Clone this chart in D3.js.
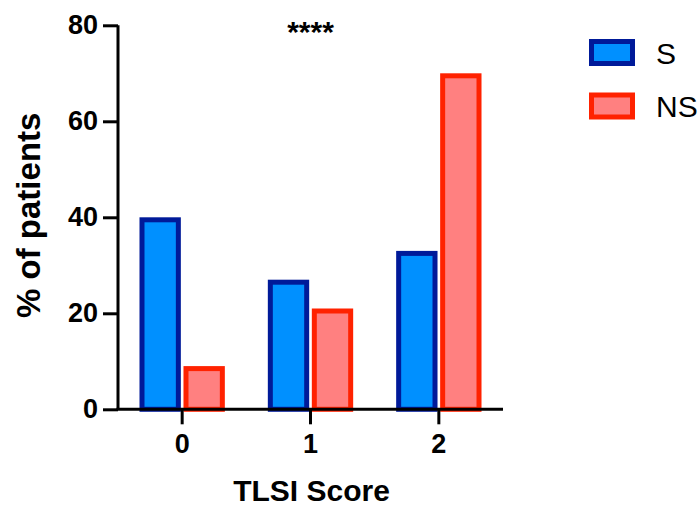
<!DOCTYPE html>
<html><head><meta charset="utf-8">
<script src="https://cdn.jsdelivr.net/npm/d3@7"></script>
<style>
html,body{margin:0;padding:0;background:#fff;}
text{font-family:"Liberation Sans",Arial,Helvetica,sans-serif;}
</style></head>
<body>
<svg id="chart" width="699" height="507"></svg>
<script>
const categories = ["0", "1", "2"];
const seriesNames = ["S", "NS"];
const valuesS = [40, 27, 33];
const valuesNS = [9, 21, 70];
const yTicks = [0, 20, 40, 60, 80];
const significance = "****";

const fills = {S: "#0090ff", NS: "#ff8080"};
const strokes = {S: "#001a99", NS: "#ff2200"};

const svg = d3.select("#chart");
const x0 = 118, x1 = 503, yTop = 25.3, yBot = 409.3;

const x = d3.scaleBand().domain(categories).range([x0, x1]).paddingInner(0.335).paddingOuter(0.1675);
const xs = d3.scaleBand().domain(seriesNames).range([0, x.bandwidth()]).paddingInner(0.06);
const y = d3.scaleLinear().domain([0, 80]).range([yBot, yTop]);

const data = categories.map((c, i) => ({cat: c, vals: [{k: "S", v: valuesS[i]}, {k: "NS", v: valuesNS[i]}]}));
const sw = 5;

const g = svg.append("g");
g.selectAll("g.grp").data(data).join("g").attr("class", "grp")
  .attr("transform", d => `translate(${x(d.cat)},0)`)
  .selectAll("rect").data(d => d.vals).join("rect")
  .attr("x", d => xs(d.k) + sw / 2)
  .attr("width", xs.bandwidth() - sw)
  .attr("y", d => y(d.v) + sw / 2)
  .attr("height", d => Math.max(0, yBot - y(d.v) - sw / 2))
  .attr("fill", d => fills[d.k])
  .attr("stroke", d => strokes[d.k])
  .attr("stroke-width", sw);

// Y axis
const yAxis = g.append("g").attr("transform", `translate(${x0},0)`)
  .call(d3.axisLeft(y).tickValues(yTicks).tickSize(15).tickPadding(5));
yAxis.select(".domain").attr("stroke", "#000").attr("stroke-width", 3).attr("d", `M0,${yTop}V${yBot}`);
yAxis.selectAll(".tick line").attr("stroke", "#000").attr("stroke-width", 3);
yAxis.selectAll(".tick text").attr("font-size", 27).attr("font-weight", "bold").attr("fill", "#000")
  .attr("font-family", "'Liberation Sans',Arial,sans-serif");

// X axis
const xAxis = g.append("g").attr("transform", `translate(0,${yBot})`)
  .call(d3.axisBottom(x).tickSize(15).tickPadding(10));
xAxis.select(".domain").attr("stroke", "#000").attr("stroke-width", 3).attr("d", `M${x0 - 1.5},0H${x1}`);
xAxis.selectAll(".tick line").attr("stroke", "#000").attr("stroke-width", 3);
xAxis.selectAll(".tick text").attr("font-size", 27).attr("font-weight", "bold").attr("fill", "#000")
  .attr("font-family", "'Liberation Sans',Arial,sans-serif");

// Axis titles
svg.append("text").attr("x", 311.5).attr("y", 501).attr("text-anchor", "middle")
  .attr("font-size", 30).attr("font-weight", "bold").text("TLSI Score");
svg.append("text").attr("transform", `translate(40,${(yTop + yBot) / 2 - 2}) rotate(-90)`)
  .attr("text-anchor", "middle").attr("font-size", 33).attr("font-weight", "bold").text("% of patients");

// significance
svg.append("text").attr("x", x("1") + x.bandwidth() / 2).attr("y", 42).attr("text-anchor", "middle")
  .attr("font-size", 30).attr("font-weight", "bold").text(significance);

// Legend
const leg = svg.append("g").attr("transform", "translate(589,39)");
const li = leg.selectAll("g").data(seriesNames).join("g").attr("transform", (d, i) => `translate(0,${i * 53.5})`);
li.append("rect").attr("x", sw / 2).attr("y", sw / 2).attr("width", 46 - sw).attr("height", 27 - sw)
  .attr("fill", d => fills[d]).attr("stroke", d => strokes[d]).attr("stroke-width", sw);
li.append("text").attr("x", 67).attr("y", 14).attr("dy", "0.36em").attr("font-size", 30).text(d => d);
</script>
</body></html>
